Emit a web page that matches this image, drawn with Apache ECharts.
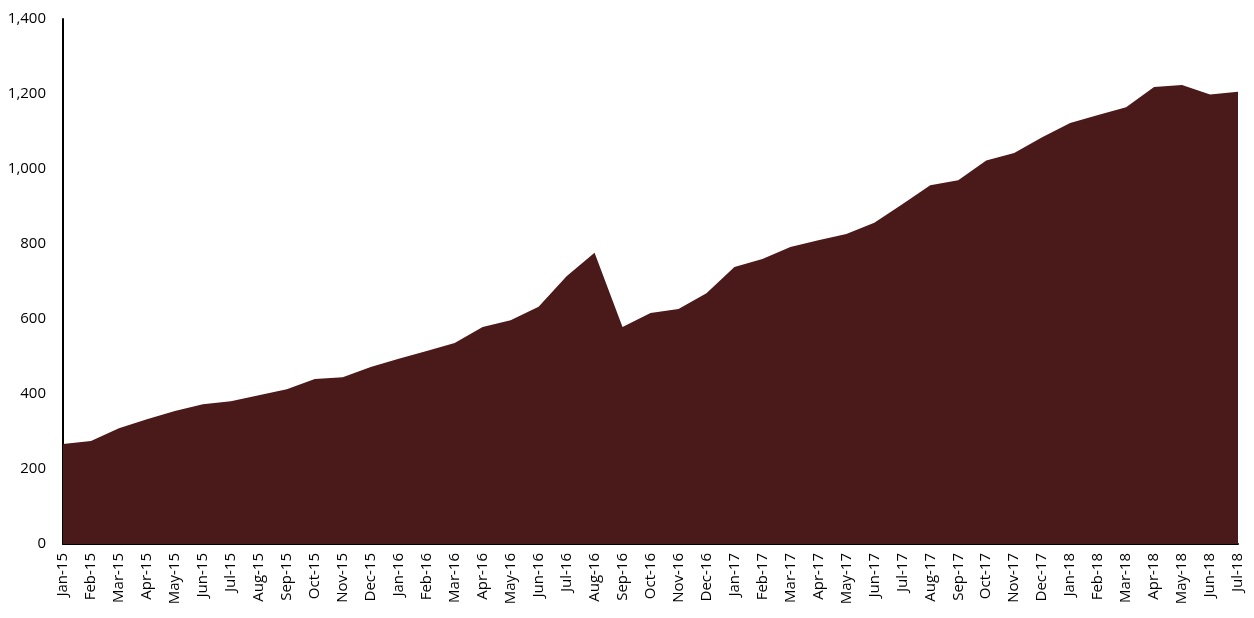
<!DOCTYPE html>
<html>
<head>
<meta charset="utf-8">
<script src="https://cdn.jsdelivr.net/npm/echarts@6/dist/echarts.min.js"></script>
<style>html,body{margin:0;padding:0;background:#fff;}#c{width:1254px;height:618px;}</style>
</head>
<body>
<div id="c"></div>
<script>
const categories = ['Jan-15','Feb-15','Mar-15','Apr-15','May-15','Jun-15','Jul-15','Aug-15','Sep-15','Oct-15','Nov-15','Dec-15',
  'Jan-16','Feb-16','Mar-16','Apr-16','May-16','Jun-16','Jul-16','Aug-16','Sep-16','Oct-16','Nov-16','Dec-16',
  'Jan-17','Feb-17','Mar-17','Apr-17','May-17','Jun-17','Jul-17','Aug-17','Sep-17','Oct-17','Nov-17','Dec-17',
  'Jan-18','Feb-18','Mar-18','Apr-18','May-18','Jun-18','Jul-18'];
const values = [267,275,309,333,355,373,381,397,413,440,445,472,
  494,515,536,579,597,633,714,777,579,616,627,669,
  739,760,792,810,827,857,906,957,970,1023,1043,1085,
  1123,1144,1165,1219,1224,1199,1206];
const yTicks = {min:0, max:1400, interval:200};

const chart = echarts.init(document.getElementById('c'), null, {renderer:'canvas'});
chart.setOption({
  animation:false,
  grid:{left:63, right:16, top:19, bottom:74},
  xAxis:{
    type:'category', data:categories, boundaryGap:false,
    axisLine:{show:true, lineStyle:{color:'#000', width:2}},
    axisTick:{show:false},
    axisLabel:{rotate:90, interval:0, margin:9, color:'#000', fontSize:15, fontFamily:'"Open Sans", sans-serif'},
    splitLine:{show:false}
  },
  yAxis:{
    type:'value', min:yTicks.min, max:yTicks.max, interval:yTicks.interval,
    axisLine:{show:true, lineStyle:{color:'#000', width:2}},
    axisTick:{show:false},
    splitLine:{show:false},
    axisLabel:{margin:17, color:'#000', fontSize:15, fontFamily:'"Open Sans", sans-serif',
      formatter:v=>v.toLocaleString('en-US')}
  },
  series:[{
    type:'line', data:values, symbol:'none',
    lineStyle:{width:0, color:'#4a1919'},
    areaStyle:{color:'#4a1919', opacity:1},
    itemStyle:{color:'#4a1919'}
  }]
});
</script>
</body>
</html>
